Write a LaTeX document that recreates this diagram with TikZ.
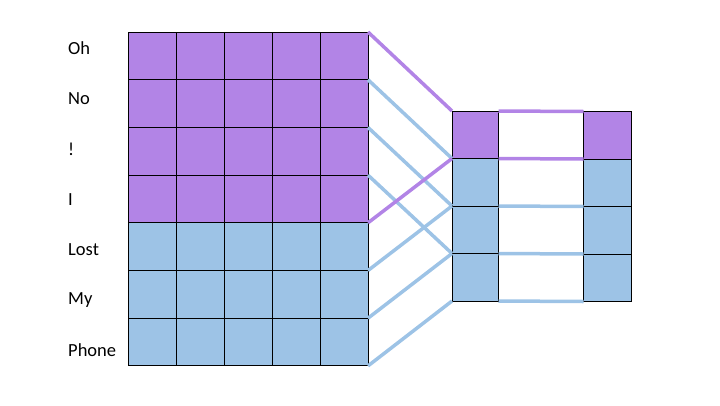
\documentclass[tikz,border=0pt]{standalone}
\usepackage{fontspec}
\setmainfont{Carlito}
\usetikzlibrary{positioning}
\definecolor{cellpurple}{RGB}{178,132,230}
\definecolor{cellblue}{RGB}{157,195,230}

\begin{document}
\begin{tikzpicture}[x=1pt,y=-1pt,
  cell/.style={draw=black,line width=0.9pt,minimum width=48pt,minimum height=47.7pt,inner sep=0pt,outer sep=0pt},
  slot/.style={cell,minimum width=46.5pt,minimum height=47.5pt},
  link/.style={line width=3.5pt},
  word/.style={anchor=west,inner sep=0pt,font=\fontsize{18.5}{22}\selectfont}]
  \useasboundingbox (0,0) rectangle (720,405);
  % input words
  \foreach \w [count=\i] in {Oh,No,!,I,Lost,My,Phone}
    \node[word] (w\i) at (68,{48.5+50.3*(\i-1)}) {\w};
  % embedding grid, 7 rows x 5 cols
  \foreach \r in {1,...,7}{
    \foreach \c in {1,...,5}{
      \ifnum\r<5 \def\fc{cellpurple}\else\def\fc{cellblue}\fi
      \node[cell,fill=\fc] (g-\r-\c) at ({128+48*(\c-0.5)},{32+47.7*(\r-0.5)}) {};
    }
  }
  % middle column
  \node[slot,fill=cellpurple] (m1) at (475.25,134.75) {};
  \node[slot,fill=cellblue,below=0pt of m1] (m2) {};
  \node[slot,fill=cellblue,below=0pt of m2] (m3) {};
  \node[slot,fill=cellblue,below=0pt of m3] (m4) {};
  % right column
  \node[slot,fill=cellpurple,minimum width=48pt] (r1) at (607.5,135.25) {};
  \node[slot,fill=cellblue,minimum width=48pt,below=0pt of r1] (r2) {};
  \node[slot,fill=cellblue,minimum width=48pt,below=0pt of r2] (r3) {};
  \node[slot,fill=cellblue,minimum width=48pt,below=0pt of r3] (r4) {};
  % links grid -> middle
  \draw[link,cellblue] (g-1-5.south east) -- (m1.south west);
  \draw[link,cellblue] (g-2-5.south east) -- (m2.south west);
  \draw[link,cellblue] (g-3-5.south east) -- (m3.south west);
  \draw[link,cellblue] (g-5-5.south east) -- (m2.south west);
  \draw[link,cellblue] (g-6-5.south east) -- (m3.south west);
  \draw[link,cellblue] (g-7-5.south east) -- (m4.south west);
  \draw[link,cellpurple] (g-1-5.north east) -- (m1.north west);
  \draw[link,cellpurple] (g-4-5.south east) -- (m1.south west);
  % links middle -> right
  \draw[link,cellpurple] (m1.north east) -- (r1.north west);
  \draw[link,cellpurple] (m1.south east) -- (r1.south west);
  \draw[link,cellblue] (m2.south east) -- (r2.south west);
  \draw[link,cellblue] (m3.south east) -- (r3.south west);
  \draw[link,cellblue] (m4.south east) -- (r4.south west);
\end{tikzpicture}
\end{document}
